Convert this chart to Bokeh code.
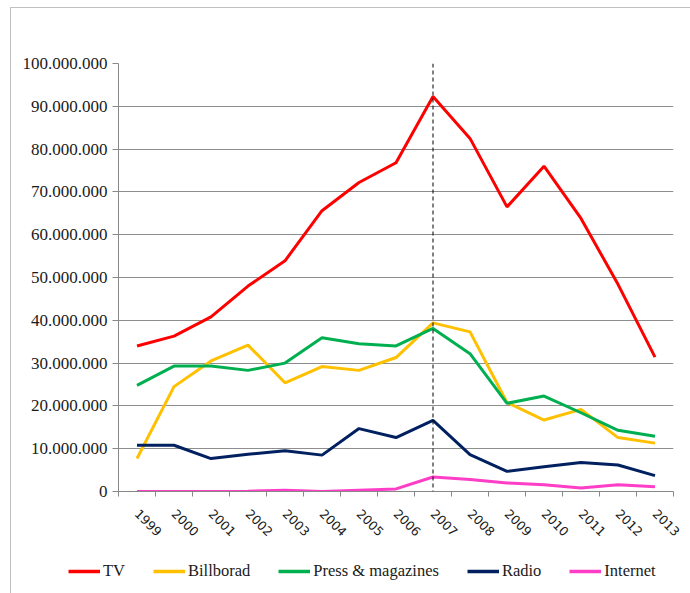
import math
from bokeh.plotting import figure
from bokeh.layouts import column
from bokeh.models import (FixedTicker, CustomJSTickFormatter, Span, Legend,
                          LegendItem, Range1d)
from bokeh.embed import file_html
from bokeh.resources import INLINE

# ---- data (values in millions) ----
years = list(range(1999, 2014))
tv = [34.0, 36.3, 40.8, 48.0, 53.9, 65.6, 72.2, 76.8, 92.3, 82.5, 66.5, 76.0, 63.8, 48.4, 31.4]
billboard = [7.7, 24.5, 30.5, 34.2, 25.4, 29.2, 28.3, 31.3, 39.4, 37.3, 20.8, 16.7, 19.2, 12.6, 11.3]
press = [24.8, 29.3, 29.3, 28.3, 30.0, 35.9, 34.5, 34.0, 38.1, 32.2, 20.6, 22.3, 18.4, 14.3, 12.9]
radio = [10.8, 10.8, 7.7, 8.7, 9.5, 8.5, 14.7, 12.6, 16.6, 8.6, 4.7, 5.8, 6.8, 6.2, 3.7]
internet = [0.0, 0.0, 0.0, 0.05, 0.3, 0.0, 0.3, 0.6, 3.4, 2.8, 2.0, 1.6, 0.8, 1.6, 1.1]
series_names = ["TV", "Billborad", "Press & magazines", "Radio", "Internet"]
series_colors = ["#FF0000", "#FFC000", "#00B050", "#002060", "#FF3EC8"]
y_ticks = [0, 10, 20, 30, 40, 50, 60, 70, 80, 90, 100]
marker_year = 2007
UNIT = 1_000_000
all_series = [tv, billboard, press, radio, internet]

# ---- main chart ----
p = figure(width=690, height=545, output_backend="svg", toolbar_location=None,
           x_range=Range1d(years[0] - 0.5, years[-1] + 0.5),
           y_range=Range1d(0, y_ticks[-1] * UNIT),
           min_border_left=118, min_border_right=17,
           min_border_top=63, min_border_bottom=54)
p.frame_align = False
p.outline_line_color = None
p.border_fill_alpha = 0

# y axis
p.yaxis.ticker = FixedTicker(ticks=[t * UNIT for t in y_ticks])
p.yaxis.formatter = CustomJSTickFormatter(
    code="return Math.round(tick).toString().replace(/\\B(?=(\\d{3})+(?!\\d))/g, '.');")
p.yaxis.major_label_text_font = "Liberation Serif"
p.yaxis.major_label_text_font_size = "17px"
p.yaxis.major_label_text_color = "#1a1a1a"
p.yaxis.axis_line_color = "#888888"
p.yaxis.major_tick_line_color = "#888888"
p.yaxis.major_tick_out = 6
p.yaxis.major_tick_in = 0
p.yaxis.minor_tick_line_color = None
p.yaxis.major_label_standoff = 5
p.ygrid.grid_line_color = "#8e8e8e"
p.ygrid.grid_line_width = 1
p.xgrid.grid_line_color = None

# x axis
p.xaxis.ticker = FixedTicker(ticks=years,
                             minor_ticks=[y - 0.5 for y in years] + [years[-1] + 0.5])
p.xaxis.major_tick_out = 0
p.xaxis.major_tick_in = 0
p.xaxis.minor_tick_out = 5
p.xaxis.minor_tick_in = 0
p.xaxis.minor_tick_line_color = "#888888"
p.xaxis.axis_line_color = "#888888"
p.xaxis.major_label_orientation = -math.pi / 4
p.xaxis.major_label_text_font = "DejaVu Sans"
p.xaxis.major_label_text_font_size = "12.5px"
p.xaxis.major_label_text_color = "#1a1a1a"
p.xaxis.major_label_standoff = 15

for vals, color in zip(all_series, series_colors):
    p.line(years, [v * UNIT for v in vals], line_color=color, line_width=3)

p.add_layout(Span(location=marker_year, dimension="height", line_color="black",
                  line_width=1, line_dash="4 3"))

# ---- legend strip (its series lie outside its own ranges, only the key shows) ----
q = figure(width=690, height=48, output_backend="svg", toolbar_location=None,
           x_axis_type=None, y_axis_type=None,
           x_range=Range1d(0, 1), y_range=Range1d(0, 1),
           min_border_left=0, min_border_right=0, min_border_top=0, min_border_bottom=0)
q.frame_align = False
q.outline_line_color = None
q.border_fill_alpha = 0
q.background_fill_alpha = 0
q.xgrid.grid_line_color = None
q.ygrid.grid_line_color = None
legend_renderers = [q.line(years, [v * UNIT for v in vals], line_color=c, line_width=3.5)
                    for vals, c in zip(all_series, series_colors)]
legend = Legend(items=[LegendItem(label=n, renderers=[r])
                       for n, r in zip(series_names, legend_renderers)],
                orientation="horizontal", location=(68, 12),
                label_text_font="Liberation Serif", label_text_font_size="16.5px",
                label_text_color="#1a1a1a",
                glyph_width=32, glyph_height=16, label_standoff=3, spacing=28,
                border_line_color=None, background_fill_alpha=0, padding=0, margin=0)
q.add_layout(legend, "center")

layout = column(p, q, spacing=0)
layout.styles = {
    "background-image": "linear-gradient(#c0c0c0, #c0c0c0), linear-gradient(#c0c0c0, #c0c0c0)",
    "background-position": "10px 7px, 10px 7px",
    "background-size": "1px 100%, 100% 1px",
    "background-repeat": "no-repeat",
}

open("out.html", "w").write(file_html(layout, INLINE))
